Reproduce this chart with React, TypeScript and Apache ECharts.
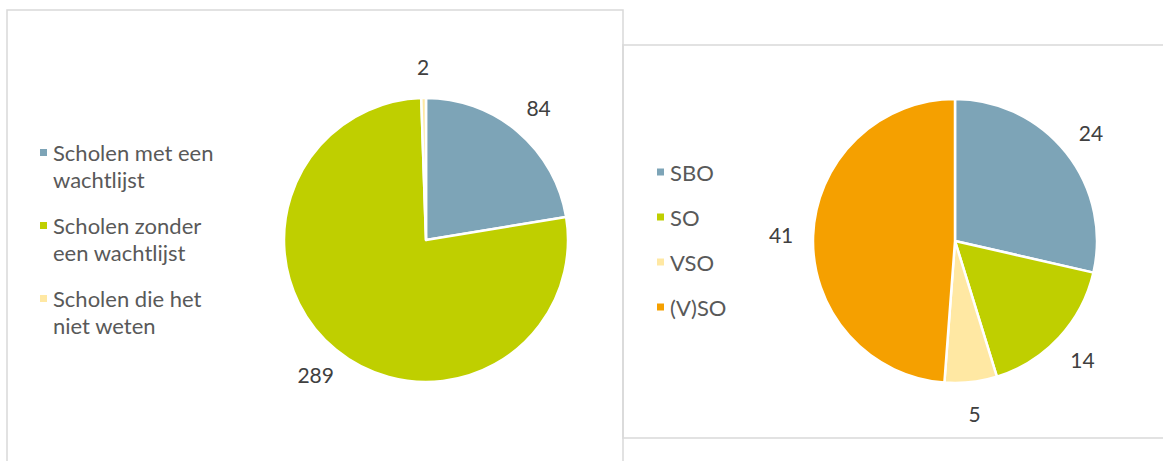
import React, { useEffect, useRef } from "react";
import * as echarts from "echarts";

// ---- Data ----
const leftCategories = [
  "Scholen met een wachtlijst",
  "Scholen zonder een wachtlijst",
  "Scholen die het niet weten",
];
const leftLegendLines = [
  "Scholen met een\nwachtlijst",
  "Scholen zonder\neen wachtlijst",
  "Scholen die het\nniet weten",
];
const leftValues = [84, 289, 2];
const leftColors = ["#7DA4B7", "#BFCF00", "#FFE8A3"];

const rightCategories = ["SBO", "SO", "VSO", "(V)SO"];
const rightValues = [24, 14, 5, 41];
const rightColors = ["#7DA4B7", "#BFCF00", "#FFE8A3", "#F5A000"];

const FONT = "Lato";
const LABEL_COLOR = "#404040";
const LEGEND_COLOR = "#595959";

const tallSquare = "path://M0,0H9V9H0Z M4.5,36L4.51,36L4.5,35.99Z";

function mainPie(center: number[], names: string[], values: number[], colors: string[]) {
  return {
    type: "pie",
    center,
    radius: 142,
    startAngle: 90,
    clockwise: true,
    silent: true,
    label: { show: false },
    labelLine: { show: false },
    emphasis: { disabled: true },
    itemStyle: { borderColor: "#ffffff", borderWidth: 2.5 },
    data: names.map((n, i) => ({ name: n, value: values[i], itemStyle: { color: colors[i] } })),
  };
}

function labelPie(center: number[], names: string[], values: number[]) {
  return {
    type: "pie",
    center,
    radius: [156, 186],
    startAngle: 90,
    clockwise: true,
    silent: true,
    z: 3,
    emphasis: { disabled: true },
    itemStyle: { color: "transparent", borderWidth: 0 },
    label: {
      show: true,
      position: "inside",
      rotate: 0,
      formatter: "{c}",
      color: LABEL_COLOR,
      fontSize: 21,
      fontFamily: FONT,
    },
    labelLine: { show: false },
    data: names.map((n, i) => ({ name: n, value: values[i] })),
  };
}

export default function App() {
  const ref = useRef<HTMLDivElement>(null);

  useEffect(() => {
    if (!ref.current) return;
    const chart = echarts.init(ref.current, undefined, { renderer: "svg" });
    chart.setOption({
      animation: false,
      backgroundColor: "#ffffff",
      textStyle: { fontFamily: FONT },
      graphic: [
        {
          type: "rect",
          z: 0,
          shape: { x: 7, y: 10, width: 616, height: 470 },
          style: { fill: "none", stroke: "#D9D9D9", lineWidth: 1.5 },
        },
        {
          type: "rect",
          z: 0,
          shape: { x: 623, y: 45, width: 560, height: 393 },
          style: { fill: "none", stroke: "#D9D9D9", lineWidth: 1.5 },
        },
      ],
      legend: [
        {
          orient: "vertical",
          left: 38,
          top: 139,
          padding: 0,
          itemWidth: 9,
          itemHeight: 36,
          itemGap: 19,
          itemTextGap: 8,
          icon: tallSquare,
          selectedMode: false,
          data: leftCategories,
          formatter: (name: string) => leftLegendLines[leftCategories.indexOf(name)],
          textStyle: { color: LEGEND_COLOR, fontSize: 22, lineHeight: 27, fontFamily: FONT },
        },
        {
          orient: "vertical",
          left: 655,
          top: 161,
          padding: 0,
          itemWidth: 9,
          itemHeight: 9,
          itemGap: 23,
          itemTextGap: 8,
          icon: "rect",
          selectedMode: false,
          data: rightCategories,
          textStyle: { color: LEGEND_COLOR, fontSize: 22, lineHeight: 22, fontFamily: FONT },
        },
      ],
      series: [
        mainPie([426, 240], leftCategories, leftValues, leftColors),
        mainPie([955, 241], rightCategories, rightValues, rightColors),
        labelPie([426, 240], leftCategories, leftValues),
        labelPie([955, 241], rightCategories, rightValues),
      ],
    });
    return () => chart.dispose();
  }, []);

  return (
    <div
      ref={ref}
      style={{ position: "fixed", left: 0, top: 0, width: 1163, height: 461 }}
    />
  );
}
